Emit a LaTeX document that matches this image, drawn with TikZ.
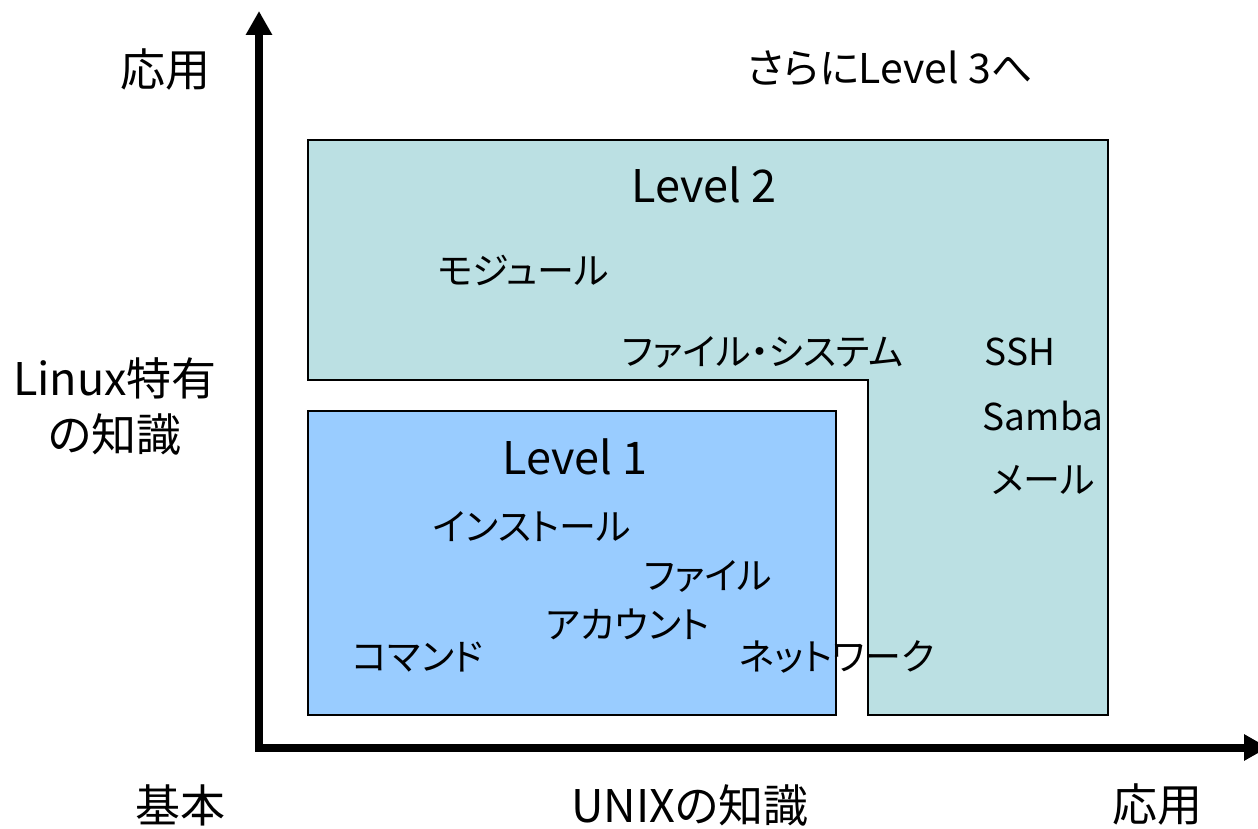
\documentclass[tikz,border=0pt]{standalone}
\usepackage{fontspec}
\setmainfont{Noto Sans CJK JP}[RawFeature=+palt]
\usetikzlibrary{arrows.meta}
\definecolor{tealfill}{RGB}{187,224,227}
\definecolor{bluefill}{RGB}{153,204,255}
\tikzset{
  lbl/.style={inner sep=0pt, anchor=center, font=\fontsize{37}{42}\selectfont},
  big/.style={inner sep=0pt, anchor=center, font=\fontsize{45}{56}\selectfont},
  mid/.style={inner sep=0pt, anchor=center, font=\fontsize{41}{46}\selectfont},
  region/.style={draw=black, line width=2pt},
  axis/.style={line width=8pt, -{Triangle[length=24pt,width=25pt]}}
}
\begin{document}
\begin{tikzpicture}[x=1pt,y=-1pt]
\useasboundingbox (0,0) rectangle (1258,829);
% regions
\draw[region, fill=tealfill] (308,140) -- (1108,140) -- (1108,715) -- (868,715) -- (868,380) -- (308,380) -- cycle;
\draw[region, fill=bluefill] (308,411) rectangle (836,715);
% axes
\coordinate (origin) at (259,751);
\coordinate (ytop) at (259,11);
\coordinate (xorig) at (255,747.5);
\coordinate (xend) at (1268,747.5);
\draw[axis] (origin) -- (ytop);
\draw[axis] (xorig) -- (xend);
% axis labels
\node[big] (yapp) at (165,70) {応用};
\node[big, align=center] (ylin) at (115,406) {Linux特有\\の知識};
\node[big] (xbase) at (180,805) {基本};
\node[big] (xunix) at (690,805) {UNIXの知識};
\node[big] (xapp) at (1157,805) {応用};
\node[mid] (lv3) at (890,68) {さらにLevel 3へ};
% level 2
\node[big] (lv2) at (704,185) {Level 2};
\node[lbl] (mod) at (523,270) {モジュール};
\node[lbl] (fs) at (763,352) {ファイル・システム};
\node[lbl] (ssh) at (1020,352) {SSH};
\node[lbl] (samba) at (1043,416) {Samba};
\node[lbl] (mail) at (1043,480) {メール};
% level 1
\node[big] (lv1) at (575,457) {Level 1};
\node[lbl] (inst) at (532,527) {インストール};
\node[lbl] (file) at (708,576) {ファイル};
\node[lbl] (acct) at (628,624) {アカウント};
\node[lbl] (cmd) at (418,657) {コマンド};
\node[lbl] (net) at (837,657) {ネットワーク};
\end{tikzpicture}
\end{document}
